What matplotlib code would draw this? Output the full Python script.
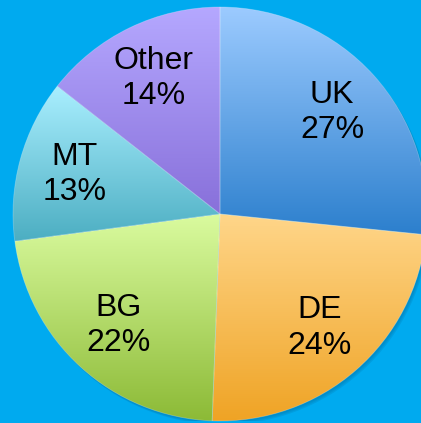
import matplotlib.pyplot as plt
import numpy as np
from matplotlib.colors import LinearSegmentedColormap
from matplotlib.patches import Circle

plt.rcParams['font.family'] = ['Liberation Sans', 'DejaVu Sans']

# slice data, clockwise from 12 o'clock
countries = ["UK", "DE", "BG", "MT", "Other"]
shares = [26.6, 24.0, 22.3, 12.7, 14.4]
pct_labels = ["27%", "24%", "22%", "13%", "14%"]

# light (top) -> dark (bottom) colours of each slice
top_colors = ["#9ccbff", "#ffd68a", "#dafb9f", "#aaefff", "#b5a8ff"]
bottom_colors = ["#2c7fcd", "#efa324", "#8cba36", "#4caec2", "#8870da"]

BG = "#00aaef"

fig = plt.figure(figsize=(4.21, 4.23), dpi=100, facecolor=BG)
# pie centre ~ (220, 214) px, radius ~207 px
ax = fig.add_axes([13 / 421, 2 / 423, 414 / 421, 414 / 423])
ax.set_facecolor(BG)

labels = [c + "\n" + p for c, p in zip(countries, pct_labels)]
wedges, texts = ax.pie(shares, labels=labels, startangle=90, counterclock=False,
                       labeldistance=0.73, radius=1,
                       textprops=dict(fontsize=23, ha="center", va="center",
                                      color="black", linespacing=1.22))

# soft shadow under the pie
for i, a in enumerate([0.10, 0.10, 0.12]):
    sh = Circle((0.006 + 0.004 * i, -0.008 - 0.005 * i), 1.0, color="#004a70",
                alpha=a, lw=0, zorder=0.5)
    ax.add_patch(sh)

grad = np.linspace(0, 1, 256).reshape(-1, 1)
for w, c0, c1 in zip(wedges, top_colors, bottom_colors):
    cmap = LinearSegmentedColormap.from_list("g", [c0, c1])
    verts = w.get_path().vertices
    x0, x1 = verts[:, 0].min(), verts[:, 0].max()
    y0, y1 = verts[:, 1].min(), verts[:, 1].max()
    im = ax.imshow(grad, cmap=cmap, extent=[x0, x1, y0, y1], origin="upper",
                   aspect="auto", zorder=1, interpolation="bilinear")
    im.set_clip_path(w)
    w.set_facecolor("none")
    w.set_edgecolor((1, 1, 1, 0.25))
    w.set_linewidth(0.6)
    w.set_zorder(2)

for t in texts:
    t.set_zorder(3)

ax.set_xlim(-1, 1)
ax.set_ylim(-1, 1)
ax.set_aspect("auto")
ax.axis("off")

fig.savefig("out.png", dpi=100, facecolor=BG)
